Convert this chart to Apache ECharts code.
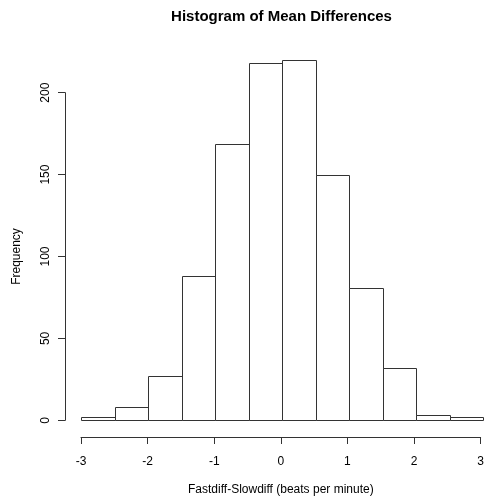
<!DOCTYPE html>
<html>
<head>
<meta charset="utf-8">
<script src="https://cdn.jsdelivr.net/npm/echarts@6/dist/echarts.min.js"></script>
<style>html,body{margin:0;padding:0;background:#fff;}#c{width:487px;height:502px;}</style>
</head>
<body>
<div id="c"></div>
<script>
// Histogram data
var binStarts = [-3, -2.5, -2, -1.5, -1, -0.5, 0, 0.5, 1, 1.5, 2, 2.5];
var binEnds   = [-2.5, -2, -1.5, -1, -0.5, 0, 0.5, 1, 1.5, 2, 2.5, 3];
var counts    = [2, 8, 27, 88, 169, 218, 220, 150, 81, 32, 3, 2];
var xTicks = [-3, -2, -1, 0, 1, 2, 3];
var yTicks = [0, 50, 100, 150, 200];
var titleText = 'Histogram of Mean Differences';
var xLabel = 'Fastdiff-Slowdiff (beats per minute)';
var yLabel = 'Frequency';

var data = binStarts.map(function (s, i) { return [s, binEnds[i], counts[i]]; });
var FONT = 'Liberation Sans, Arial, sans-serif';
var LINE = '#333';

var chart = echarts.init(document.getElementById('c'), null, {renderer: 'canvas'});
chart.setOption({
  animation: false,
  backgroundColor: '#fff',
  graphic: [{
    type: 'text', x: 281.5, y: 17,
    style: {text: titleText, font: 'bold 15px ' + FONT, fill: '#000', align: 'center', verticalAlign: 'middle'}
  }],
  grid: [
    {left: 81, width: 402, top: 60, height: 360.3},
    {left: 65, width: 10, top: 92.7, height: 327.6},
    {left: 81, width: 402, top: 300, height: 137}
  ],
  xAxis: [
    {gridIndex: 0, type: 'value', min: -3, max: 3, show: false},
    {gridIndex: 1, type: 'value', min: 0, max: 1, show: false},
    {gridIndex: 2, type: 'value', min: -3, max: 3, interval: 1,
     axisLine: {show: true, onZero: false, lineStyle: {color: LINE, width: 1}},
     axisTick: {show: true, length: 7, lineStyle: {color: LINE}},
     axisLabel: {margin: 19, color: '#000', fontSize: 12, fontFamily: FONT,
                 customValues: xTicks},
     splitLine: {show: false},
     name: xLabel, nameLocation: 'middle', nameGap: 47,
     nameTextStyle: {color: '#000', fontSize: 12, fontFamily: FONT}}
  ],
  yAxis: [
    {gridIndex: 0, type: 'value', min: 0, max: 220, show: false},
    {gridIndex: 1, type: 'value', min: 0, max: 200, interval: 50,
     axisLine: {show: true, lineStyle: {color: LINE, width: 1}},
     axisTick: {show: true, length: 7, lineStyle: {color: LINE}},
     axisLabel: {margin: 13, rotate: 90, color: '#000', fontSize: 12, fontFamily: FONT,
                 customValues: yTicks},
     splitLine: {show: false},
     name: yLabel, nameLocation: 'middle', nameGap: 42,
     nameTextStyle: {color: '#000', fontSize: 12, fontFamily: FONT}},
    {gridIndex: 2, type: 'value', show: false}
  ],
  series: [{
    type: 'custom',
    xAxisIndex: 0, yAxisIndex: 0,
    data: data,
    renderItem: function (params, api) {
      var p0 = api.coord([api.value(0), 0]);
      var p1 = api.coord([api.value(1), api.value(2)]);
      var x0 = Math.round(p0[0]) + 0.5, x1 = Math.round(p1[0]) + 0.5;
      var y0 = Math.round(p0[1]) + 0.5, y1 = Math.round(p1[1]) + 0.5;
      return {
        type: 'rect',
        shape: {x: x0, y: y1, width: x1 - x0, height: y0 - y1},
        style: {fill: '#fff', stroke: LINE, lineWidth: 1}
      };
    }
  }]
});
</script>
</body>
</html>
